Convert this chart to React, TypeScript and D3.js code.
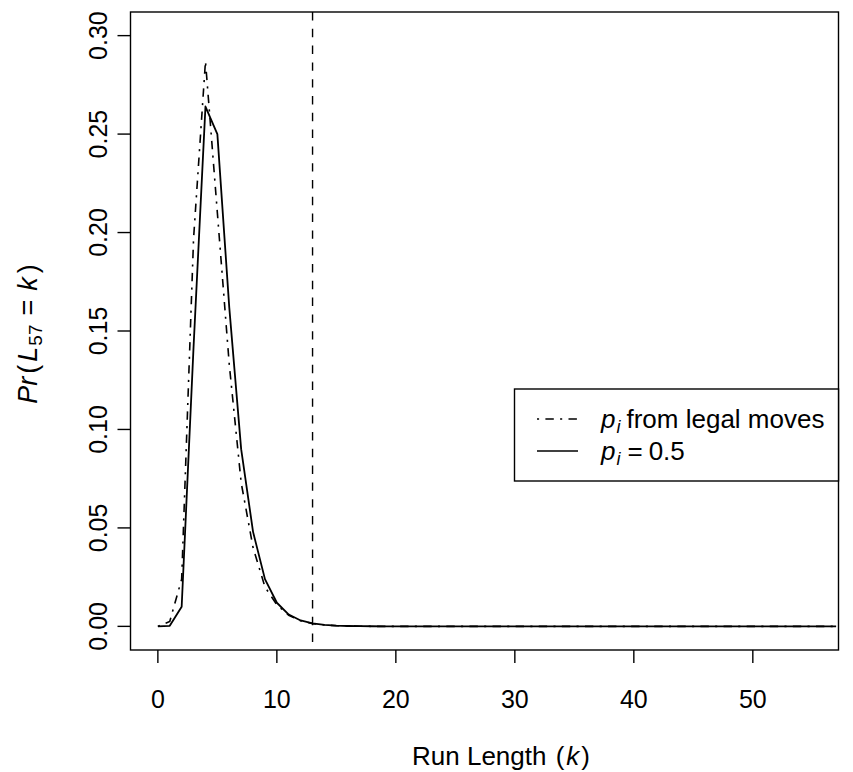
import React, { useRef, useEffect } from 'react';
import * as d3 from 'd3';

// run length k = 0..57
const runLengths = d3.range(0, 58);

// Pr(L57 = k) with p_i = 0.5 (solid)
const probHalf = [
  0, 0.0003, 0.010, 0.142, 0.264, 0.250, 0.162, 0.090, 0.048, 0.024,
  0.012, 0.006, 0.003, 0.0015, 0.0008, 0.0004, 0.0002, 0.0001, 0.00005, 0,
  0, 0, 0, 0, 0, 0, 0, 0, 0, 0,
  0, 0, 0, 0, 0, 0, 0, 0, 0, 0,
  0, 0, 0, 0, 0, 0, 0, 0, 0, 0,
  0, 0, 0, 0, 0, 0, 0, 0,
];

// Pr(L57 = k) with p_i from legal moves (dot-dash)
const probLegal = [
  0, 0.0025, 0.024, 0.197, 0.287, 0.210, 0.133, 0.073, 0.040, 0.020,
  0.011, 0.0056, 0.0028, 0.0014, 0.0007, 0.00035, 0.00018, 0.00009, 0, 0,
  0, 0, 0, 0, 0, 0, 0, 0, 0, 0,
  0, 0, 0, 0, 0, 0, 0, 0, 0, 0,
  0, 0, 0, 0, 0, 0, 0, 0, 0, 0,
  0, 0, 0, 0, 0, 0, 0, 0,
];

const xTicks = [0, 10, 20, 30, 40, 50];
const yTicks = [0, 0.05, 0.1, 0.15, 0.2, 0.25, 0.3];
const cutoff = 13; // vertical dashed reference

const FONT = '"Liberation Sans", Arial, Helvetica, sans-serif';
const DOTDASH = '2.1,6.3,8.4,6.3';

const App = () => {
  const ref = useRef<SVGSVGElement>(null);

  useEffect(() => {
    const svg = d3.select(ref.current);
    svg.selectAll('*').remove();

    // plot region (R style box)
    const left = 130.5, right = 838.5, top = 12, bottom = 650;

    const x = d3.scaleLinear().domain([-2.3, 57.2]).range([left, right]);
    const y = d3.scaleLinear().domain([-0.012, 0.312]).range([bottom, top]);

    const g = svg.append('g').attr('font-family', FONT).attr('fill', '#000');

    // box
    g.append('rect')
      .attr('x', left).attr('y', top)
      .attr('width', right - left).attr('height', bottom - top)
      .attr('fill', 'none').attr('stroke', '#000').attr('stroke-width', 1.4);

    // x axis ticks + labels
    xTicks.forEach(t => {
      g.append('line')
        .attr('x1', x(t)).attr('x2', x(t))
        .attr('y1', bottom).attr('y2', bottom + 13)
        .attr('stroke', '#000').attr('stroke-width', 1.4);
      g.append('text')
        .attr('x', x(t)).attr('y', 708)
        .attr('text-anchor', 'middle').attr('font-size', 25)
        .text(t);
    });

    // y axis ticks + rotated labels
    yTicks.forEach(t => {
      g.append('line')
        .attr('x1', left - 13).attr('x2', left)
        .attr('y1', y(t)).attr('y2', y(t))
        .attr('stroke', '#000').attr('stroke-width', 1.4);
      g.append('text')
        .attr('transform', `translate(107,${y(t)}) rotate(-90)`)
        .attr('text-anchor', 'middle').attr('font-size', 25)
        .text(t.toFixed(2));
    });

    // x label
    const xl = g.append('text')
      .attr('x', 412).attr('y', 765)
      .attr('font-size', 26);
    xl.append('tspan').text('Run Length ');
    xl.append('tspan').attr('dx', 2).text('(');
    xl.append('tspan').attr('font-style', 'italic').attr('dx', 2).text('k');
    xl.append('tspan').attr('dx', 2).text(')');

    // y label: Pr(L_57 = k)
    const yl = g.append('text')
      .attr('transform', `translate(37,334) rotate(-90)`)
      .attr('text-anchor', 'middle').attr('font-size', 27);
    yl.append('tspan').attr('font-style', 'italic').text('Pr');
    yl.append('tspan').attr('dx', 3).text('(');
    yl.append('tspan').attr('font-style', 'italic').attr('dx', 3).text('L');
    yl.append('tspan').attr('font-size', 19).attr('dy', 5).attr('dx', 1).text('57');
    yl.append('tspan').attr('dy', -5).attr('dx', 9).text('=');
    yl.append('tspan').attr('font-style', 'italic').attr('dx', 9).text('k');
    yl.append('tspan').attr('dx', 4).text(')');

    // vertical dashed line at cutoff
    g.append('line')
      .attr('x1', x(cutoff)).attr('x2', x(cutoff))
      .attr('y1', top).attr('y2', bottom)
      .attr('stroke', '#000').attr('stroke-width', 1.4)
      .attr('stroke-dasharray', '8.4,8.4');

    const line = (vals: number[]) => d3.line<number>()
      .x(k => x(k))
      .y(k => y(vals[k]))(runLengths);

    // p_i from legal moves: dot-dash
    g.append('path')
      .attr('d', line(probLegal))
      .attr('fill', 'none').attr('stroke', '#000').attr('stroke-width', 1.6)
      .attr('stroke-dasharray', DOTDASH);

    // p_i = 0.5: solid
    g.append('path')
      .attr('d', line(probHalf))
      .attr('fill', 'none').attr('stroke', '#000').attr('stroke-width', 1.8)
      .attr('stroke-linejoin', 'round');

    // legend
    const lg = g.append('g');
    lg.append('rect')
      .attr('x', 514.5).attr('y', 389)
      .attr('width', right - 514.5).attr('height', 92)
      .attr('fill', '#fff').attr('stroke', '#000').attr('stroke-width', 1.4);

    const rows = [
      { dash: DOTDASH, label: 'from legal moves', cy: 419 },
      { dash: null, label: '0.5', cy: 451 },
    ];
    rows.forEach((r, i) => {
      lg.append('line')
        .attr('x1', 537).attr('x2', 578)
        .attr('y1', r.cy).attr('y2', r.cy)
        .attr('stroke', '#000').attr('stroke-width', 1.6)
        .attr('stroke-dasharray', r.dash);
      const t = lg.append('text')
        .attr('x', 601).attr('y', r.cy + 9).attr('font-size', 26);
      t.append('tspan').attr('font-style', 'italic').text('p');
      t.append('tspan').attr('font-style', 'italic').attr('font-size', 18).attr('dy', 5).attr('dx', 1).text('i');
      if (i === 0) {
        t.append('tspan').attr('dy', -5).attr('dx', 6).text(r.label);
      } else {
        t.append('tspan').attr('dy', -5).attr('dx', 7).text('=');
        t.append('tspan').attr('dx', 6).text(r.label);
      }
    });
  }, []);

  return (
    <svg
      ref={ref}
      width={853}
      height={772}
      style={{ position: 'absolute', left: 0, top: 0, background: '#fff' }}
    />
  );
};

export default App;
